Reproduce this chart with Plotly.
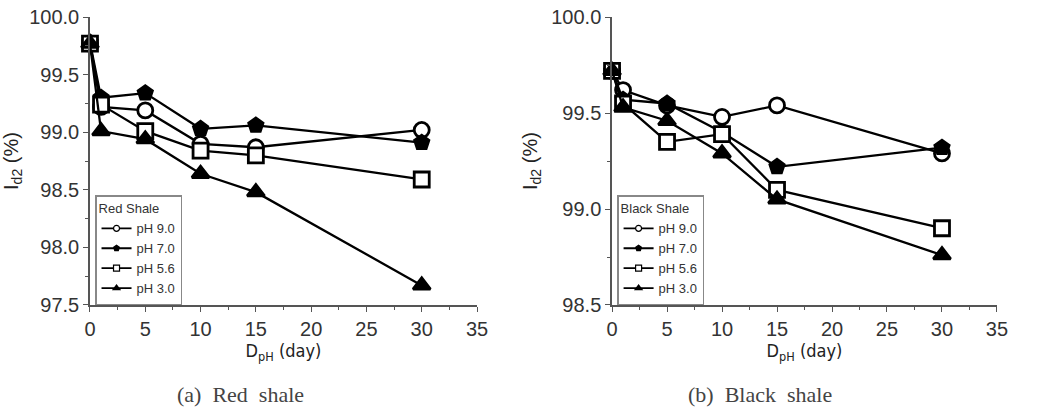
import plotly.graph_objects as go

days = [0, 1, 5, 10, 15, 30]
series_names = ["pH 9.0", "pH 7.0", "pH 5.6", "pH 3.0"]

red_ph90 = [99.77, 99.22, 99.19, 98.90, 98.87, 99.02]
red_ph70 = [99.78, 99.30, 99.34, 99.03, 99.06, 98.91]
red_ph56 = [99.77, 99.24, 99.01, 98.84, 98.80, 98.59]
red_ph30 = [99.77, 99.01, 98.94, 98.64, 98.48, 97.67]

black_ph90 = [99.72, 99.62, 99.54, 99.48, 99.54, 99.29]
black_ph70 = [99.72, 99.57, 99.55, 99.40, 99.22, 99.32]
black_ph56 = [99.72, 99.55, 99.35, 99.39, 99.10, 98.90]
black_ph30 = [99.72, 99.53, 99.46, 99.29, 99.05, 98.76]

x_ticks = [0, 5, 10, 15, 20, 25, 30, 35]
red_y_ticks = [97.5, 98.0, 98.5, 99.0, 99.5, 100.0]
black_y_ticks = [98.5, 99.0, 99.5, 100.0]

symbols = ["circle", "pentagon", "square", "triangle-up"]
fills = ["white", "black", "white", "black"]

fig = go.Figure()

def add_panel(xa, ya, legend_name, data):
    for name, sym, fill, ys in zip(series_names, symbols, fills, data):
        fig.add_trace(go.Scatter(
            x=days, y=ys, mode="lines+markers", xaxis=xa, yaxis=ya,
            line=dict(color="black", width=2.3),
            marker=dict(symbol=sym, size=15, color=fill,
                        line=dict(color="black", width=2.8)),
            showlegend=False, cliponaxis=False))
    for name, sym, fill in zip(series_names, symbols, fills):
        fig.add_trace(go.Scatter(
            x=[None], y=[None], mode="lines+markers", xaxis=xa, yaxis=ya,
            name=name, legend=legend_name,
            line=dict(color="black", width=1.8),
            marker=dict(symbol=sym, size=6, color=fill,
                        line=dict(color="black", width=1.2))))

add_panel("x", "y", "legend", [red_ph90, red_ph70, red_ph56, red_ph30])
add_panel("x2", "y2", "legend2", [black_ph90, black_ph70, black_ph56, black_ph30])

axis_font = dict(family="Liberation Sans, Arial", size=20, color="#333")
common_x = dict(range=[0, 35], tickvals=x_ticks, ticks="outside", ticklen=5, tickwidth=1.2,
                showline=True, linecolor="#555", linewidth=1.5, showgrid=False, zeroline=False,
                tickfont=axis_font, tickcolor="#555", automargin=False,
                minor=dict(ticks="outside", ticklen=3, dtick=2.5, tickcolor="#555"),
                title=dict(text="D<sub>pH</sub> (day)", standoff=2,
                           font=dict(family="DejaVu Sans Condensed, Liberation Sans Narrow, Arial",
                                     size=18, color="#222")))
common_y = dict(ticks="outside", ticklen=5, tickwidth=1.2, showline=True, linecolor="#555",
                linewidth=1.5, showgrid=False, zeroline=False, tickfont=axis_font, tickcolor="#555",
                tickformat=".1f", automargin=False,
                title=dict(text="I<sub>d2</sub> (%)", standoff=8,
                           font=dict(family="Liberation Sans, Arial", size=20, color="#222")))

legend_common = dict(xanchor="left", yanchor="top", bordercolor="#888", borderwidth=1.5,
                     bgcolor="white", font=dict(size=13, family="Liberation Sans, Arial", color="#333"),
                     tracegroupgap=0, itemwidth=30)

fig.update_layout(
    width=1050, height=408, margin=dict(l=0, r=0, t=0, b=0, autoexpand=False),
    plot_bgcolor="white", paper_bgcolor="white",
    xaxis=dict(domain=[0.0857, 0.4543], anchor="y", **common_x),
    yaxis=dict(domain=[0.2525, 0.958], anchor="x", range=[97.5, 100.0], tickvals=red_y_ticks,
               minor=dict(ticks="outside", ticklen=3, dtick=0.25, tickcolor="#555"), **common_y),
    xaxis2=dict(domain=[0.5829, 0.9495], anchor="y2", **common_x),
    yaxis2=dict(domain=[0.2525, 0.958], anchor="x2", range=[98.5, 100.0], tickvals=black_y_ticks,
                minor=dict(ticks="outside", ticklen=3, dtick=0.25, tickcolor="#555"), **common_y),
    legend=dict(x=0.0905, y=0.522,
                title=dict(text="Red Shale", font=dict(size=13, family="Liberation Sans, Arial", color="#333")),
                **legend_common),
    legend2=dict(x=0.5877, y=0.522,
                 title=dict(text="Black Shale", font=dict(size=13, family="Liberation Sans, Arial", color="#333")),
                 **legend_common),
    annotations=[
        dict(text="(a)  Red  shale", x=240 / 1050, y=(408 - 394) / 408, xref="paper", yref="paper",
             xanchor="center", yanchor="middle", showarrow=False,
             font=dict(family="Liberation Serif, serif", size=22, color="#444")),
        dict(text="(b)  Black  shale", x=760 / 1050, y=(408 - 394) / 408, xref="paper", yref="paper",
             xanchor="center", yanchor="middle", showarrow=False,
             font=dict(family="Liberation Serif, serif", size=22, color="#444")),
    ],
)

fig.write_html("out.html")
